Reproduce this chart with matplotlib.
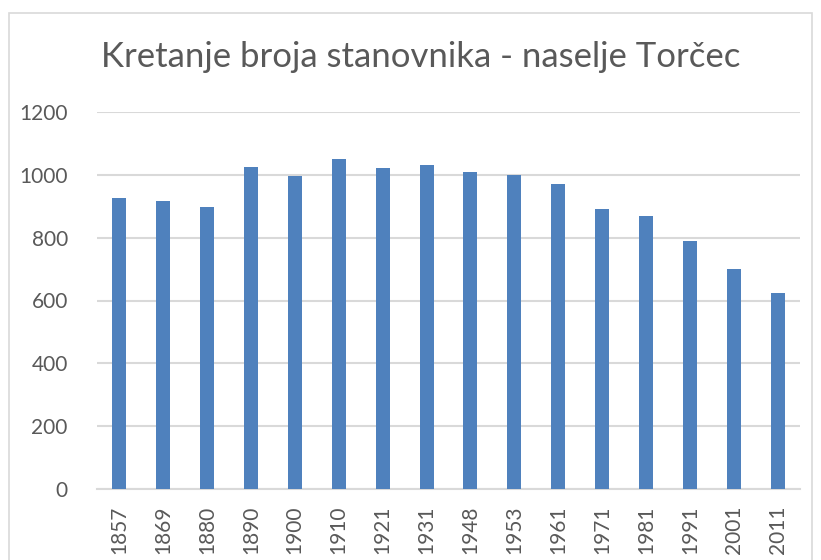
import matplotlib.pyplot as plt
from matplotlib.patches import Rectangle

years = ["1857", "1869", "1880", "1890", "1900", "1910", "1921", "1931",
         "1948", "1953", "1961", "1971", "1981", "1991", "2001", "2011"]
population = [927, 917, 897, 1024, 995, 1049, 1022, 1030,
              1010, 1001, 971, 892, 869, 789, 700, 623]

plt.rcParams['font.family'] = ['Lato', 'DejaVu Sans']
text_color = '#595959'

fig = plt.figure(figsize=(8.21, 5.6), dpi=100)
ax = fig.add_axes([97 / 821, 1 - 489 / 560, 703 / 821, 377 / 560])

# chart area border
fig.patches.append(Rectangle((9 / 821, -0.05), 803 / 821, 1.05 - 13 / 560,
                             transform=fig.transFigure, fill=False,
                             edgecolor='#D9D9D9', linewidth=1.2))

x = range(len(years))
ax.bar(x, population, width=0.32, color='#4F81BD', zorder=3)

ax.set_xlim(-0.5, len(years) - 0.5)
ax.set_ylim(0, 1200)
ax.set_yticks(range(0, 1201, 200))
ax.set_xticks(list(x))
ax.set_xticklabels(years, rotation=90)
ax.grid(axis='y', color='#D9D9D9', linewidth=1.5, zorder=0)
ax.tick_params(axis='both', length=0, labelsize=15, colors=text_color)
ax.tick_params(axis='y', pad=21)
ax.tick_params(axis='x', pad=12)
for side in ['top', 'right', 'left']:
    ax.spines[side].set_visible(False)
ax.spines['bottom'].set_color('#D9D9D9')
ax.spines['bottom'].set_linewidth(1.5)

fig.text(421 / 821, 1 - 57 / 560, "Kretanje broja stanovnika - naselje Torčec",
         ha='center', va='center', fontsize=25, color=text_color)

fig.savefig("out.png", dpi=100)
